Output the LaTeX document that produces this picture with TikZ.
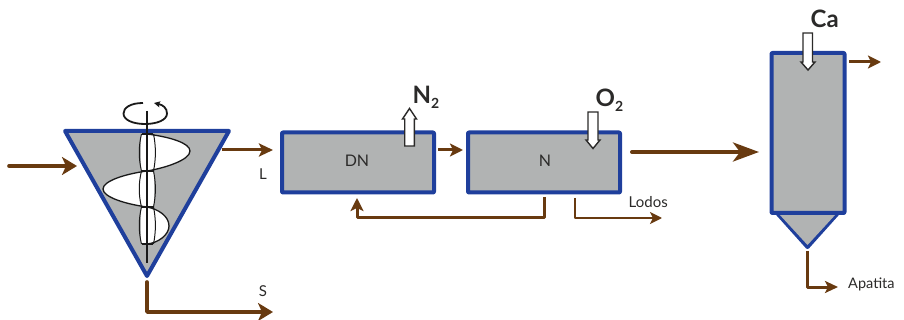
\documentclass[tikz,border=0pt]{standalone}
\usepackage{fontspec}
\setmainfont{Lato}
\usetikzlibrary{arrows.meta}
\definecolor{vesselblue}{HTML}{1F3F9C}
\definecolor{vesselgrey}{HTML}{B1B3B3}
\definecolor{flowbrown}{HTML}{683A10}
\definecolor{inktext}{HTML}{2B2A29}
\tikzset{
  x=1pt,y=-1pt,
  vessel/.style={draw=vesselblue,fill=vesselgrey,line width=4pt,line join=round,rounded corners=0.8pt,inner sep=0pt,outer sep=0pt},
  bigflow/.style={draw=flowbrown,line width=4pt,line cap=round,line join=round,-{Stealth[length=26pt,width=19pt,inset=7pt]}},
  midflow/.style={draw=flowbrown,line width=3.6pt,line cap=round,line join=round,-{Stealth[length=15pt,width=18pt,inset=4pt]}},
  thinflow/.style={draw=flowbrown,line width=3pt,line join=round,-{Stealth[length=13pt,width=13pt,inset=3pt]}},
  lab/.style={text=inktext,font=\fontsize{15}{17}\selectfont,inner sep=0pt},
  gaslab/.style={text=inktext,font=\fontsize{24}{26}\selectfont\bfseries,inner sep=0pt},
  block/.style={draw=inktext,fill=white,line width=1.4pt,line join=miter},
  ink/.style={draw=black!90,line width=1.3pt},
}
\begin{document}
\begin{tikzpicture}
\useasboundingbox (0,0) rectangle (904,320);
% vessels
\coordinate (tl) at (65,131);
\coordinate (tr) at (229,131);
\coordinate (tb) at (147,276);
\draw[vessel,rounded corners=0pt] (tl) -- (tr) -- (tb) -- cycle;
\node[vessel,minimum width=152pt,minimum height=60pt] (dn) at (358,162.5) {};
\node[vessel,minimum width=152pt,minimum height=60pt] (n) at (544,162.5) {};
\node[lab,font=\fontsize{16}{18}\selectfont] at (357,161) {DN};
\node[lab,font=\fontsize{16}{18}\selectfont] at (545,161) {N};
\coordinate (cl) at (777,213);
\coordinate (cr) at (838,213);
\coordinate (cb) at (807.5,247);
\draw[vessel,rounded corners=0pt] (cl) -- (cb) -- (cr);
\fill[vesselgrey] (779,214) -- (807.5,245) -- (836,214) -- cycle;
\node[vessel,minimum width=73pt,minimum height=160pt] (col) at (808,133) {};
% screw blades
\fill[white] (147,134) .. controls (170,137) and (190,143) .. (190,151) .. controls (190,160) and (165,168) .. (147,171)
  .. controls (125,174) and (103,181) .. (103,189) .. controls (103,197) and (125,204) .. (147,207)
  .. controls (158,209) and (169,216) .. (169,226) .. controls (169,235) and (158,243) .. (147,244) -- cycle;
\fill[white] (141,134) rectangle (154,244);
\draw[ink] (147,134) .. controls (170,137) and (190,143) .. (190,151) .. controls (190,160) and (165,168) .. (147,171)
  .. controls (125,174) and (103,181) .. (103,189) .. controls (103,197) and (125,204) .. (147,207)
  .. controls (158,209) and (169,216) .. (169,226) .. controls (169,235) and (158,243) .. (147,244);
\foreach \a/\b in {134/171,171/207,207/244}{
  \draw[ink,line width=1pt] (141.5,\a) .. controls (138.5,{\a+12}) and (138.5,{\b-12}) .. (141.5,\b);
  \draw[ink,line width=1pt] (153.5,\a) .. controls (156,{\a+12}) and (156,{\b-12}) .. (153.5,\b);
}
\draw[ink] (141.5,134) -- (153,134) (141.5,171) -- (153,171) (141.5,207) -- (153,207) (141.5,244) -- (153,244);
\coordinate (shafttop) at (147,111);
\coordinate (shaftbot) at (147,263);
\draw[draw=black!90,line width=2pt] (shafttop) -- (shaftbot);
% rotation symbol
\draw[draw=black!90,line width=1.8pt,-{Stealth[length=6pt,width=6pt,inset=1pt]}]
  (143,103) .. controls (130,103) and (123.5,108) .. (123.5,113.5) .. controls (123.5,120) and (133,124) .. (145,124)
  .. controls (157,124) and (167,120) .. (167,113.5) .. controls (167,108) and (163,105) .. (154,103);
% flows
\coordinate (in0) at (9,166);   \coordinate (in1) at (77,166);
\draw[midflow] (in0) -- (in1);
\coordinate (l0) at (222,150);  \coordinate (l1) at (273,150);
\draw[thinflow,-{Stealth[length=14pt,width=13pt,inset=3pt]}] (l0) -- (l1);
\coordinate (s0) at (147,282);  \coordinate (s1) at (273,312);
\draw[midflow] (s0) |- (s1);
\coordinate (d0) at (438,150);  \coordinate (d1) at (463,150);
\draw[thinflow] (d0) -- (d1);
\coordinate (r0) at (544,197);  \coordinate (r1) at (357,198);
\draw[thinflow] (r0) -- (544,218) -- (357,218) -- (r1);
\coordinate (lo0) at (575,198); \coordinate (lo1) at (662,218);
\draw[thinflow,line width=2.4pt,-{Stealth[length=12pt,width=12pt,inset=3pt]}] (lo0) |- (lo1);
\coordinate (b0) at (632,152);  \coordinate (b1) at (759,152);
\draw[bigflow] (b0) -- (b1);
\coordinate (o0) at (849,62);   \coordinate (o1) at (881,62);
\draw[thinflow] (o0) -- (o1);
\coordinate (a0) at (807,251);  \coordinate (a1) at (838,287);
\draw[thinflow,-{Stealth[length=13pt,width=12pt,inset=3pt]}] (a0) |- (a1);
% block arrows
\draw[block] (404.7,146) -- (404.7,119) -- (402.5,119) -- (409.5,108.5) -- (416.5,119) -- (414.3,119) -- (414.3,146) -- cycle;
\draw[block] (588,112) -- (588,140) -- (586,140) -- (593,148.5) -- (600,140) -- (598,140) -- (598,112) -- cycle;
\draw[block] (803,33) -- (803,62) -- (801,62) -- (808,70) -- (815,62) -- (812.5,62) -- (812.5,33) -- cycle;
% labels
\node[lab] (lL) at (263,174) {L};
\node[lab] (lS) at (263,291) {S};
\node[lab,anchor=west] (lLodos) at (628.5,202.5) {Lodos};
\node[lab,anchor=west,font=\fontsize{14.5}{16}\selectfont] (lApa) at (848,284) {Apatita};
\node[gaslab,anchor=base west] (lN) at (412.5,104) {N\raisebox{-5pt}{\fontsize{14}{15}\selectfont 2}};
\node[gaslab,anchor=base west] (lO) at (595.5,107) {O\raisebox{-5pt}{\fontsize{14}{15}\selectfont 2}};
\node[gaslab,anchor=base west] (lCa) at (810.5,28) {Ca};
\end{tikzpicture}
\end{document}
